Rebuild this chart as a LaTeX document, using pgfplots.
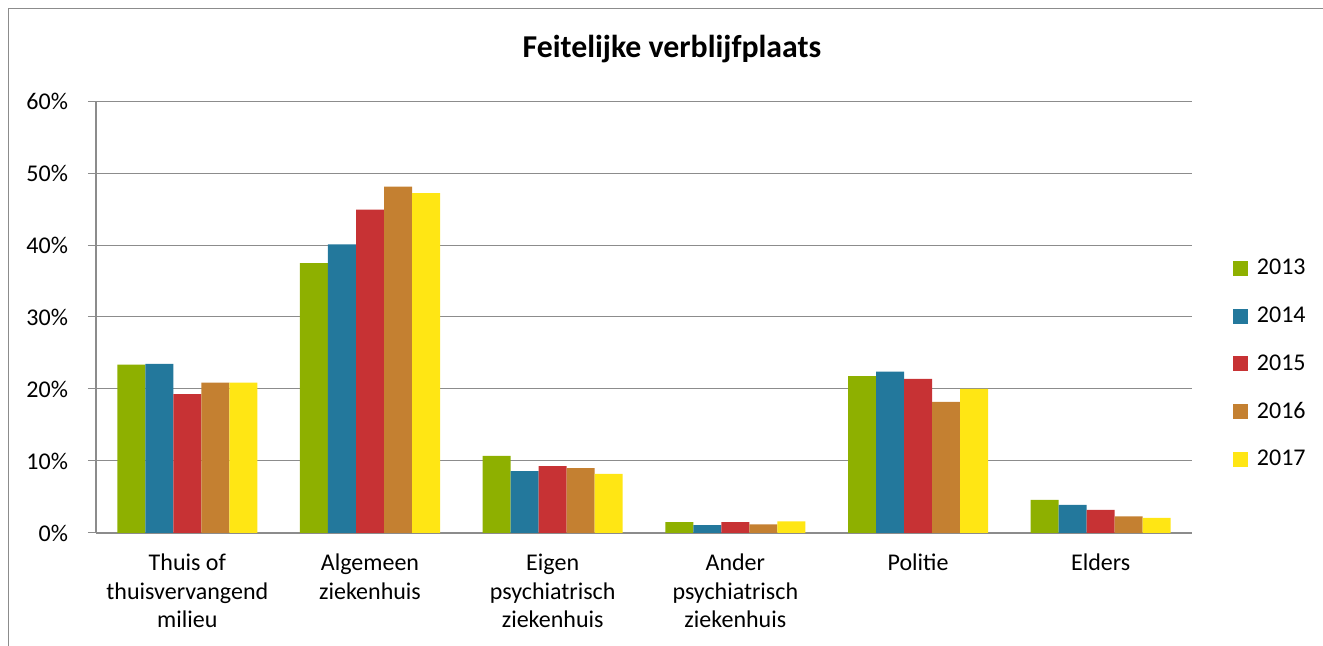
\documentclass[border=0pt]{standalone}
\usepackage{pgfplots}
\pgfplotsset{compat=1.18}
\usepackage{fontspec}
\setmainfont{Carlito}
\definecolor{c13}{HTML}{8EB000}
\definecolor{c14}{HTML}{23789C}
\definecolor{c15}{HTML}{C73234}
\definecolor{c16}{HTML}{C48031}
\definecolor{c17}{HTML}{FFE614}
\definecolor{gridgray}{HTML}{8C8C8C}
\begin{document}
\begin{tikzpicture}
\path[use as bounding box] (0,0) rectangle (661.5pt,323pt);
\draw[color=gridgray, line width=0.6pt] (4.15pt,0) -- (4.15pt,318.65pt) -- (661.5pt,318.65pt);
\node[font=\fontsize{15.9}{19}\selectfont\bfseries, anchor=base] at (336pt,294pt) {Feitelijke verblijfplaats};
\begin{axis}[
  at={(48pt,56.5pt)}, anchor=south west,
  scale only axis, width=548pt, height=216pt,
  ybar=0pt, bar width=14pt,
  xmin=-0.5, xmax=5.5, ymin=0, ymax=60,
  enlargelimits=false,
  xtick={0,...,5},
  xticklabels={Thuis of\\thuisvervangend\\milieu, Algemeen\\ziekenhuis, Eigen\\psychiatrisch\\ziekenhuis, Ander\\psychiatrisch\\ziekenhuis, Politie, Elders},
  xticklabel style={align=center, font=\fontsize{12}{14.25}\selectfont, yshift=-3pt},
  xtick style={draw=none},
  ytick={0,10,...,60},
  yticklabels={0\%,10\%,20\%,30\%,40\%,50\%,60\%},
  yticklabel style={font=\fontsize{12}{14.25}\selectfont, xshift=-6.5pt},
  ytick style={gridgray, line width=0.5pt},
  tick align=outside, major tick length=4pt,
  ymajorgrids, grid style={gridgray, line width=0.5pt},
  axis x line*=bottom, axis y line*=left,
  axis line style={gridgray, line width=0.6pt},
  legend style={at={(axis description cs:1.037,0.391)}, anchor=west, draw=none, fill=none,
    font=\fontsize{12}{14.25}\selectfont, row sep=10.5pt, inner sep=0pt,
    /tikz/every odd column/.append style={column sep=2.5pt}},
  legend cell align=left,
  legend image code/.code={\fill[#1] (0pt,-3.75pt) rectangle (7.5pt,3.75pt);},
]
\addplot[fill=c13, draw=none] coordinates {(0,23.4) (1,37.5) (2,10.7) (3,1.5) (4,21.8) (5,4.6)};
\addplot[fill=c14, draw=none] coordinates {(0,23.5) (1,40.1) (2,8.6) (3,1.1) (4,22.4) (5,3.9)};
\addplot[fill=c15, draw=none] coordinates {(0,19.3) (1,44.9) (2,9.3) (3,1.5) (4,21.4) (5,3.2)};
\addplot[fill=c16, draw=none] coordinates {(0,20.9) (1,48.1) (2,9.0) (3,1.2) (4,18.2) (5,2.3)};
\addplot[fill=c17, draw=none] coordinates {(0,20.9) (1,47.2) (2,8.2) (3,1.6) (4,20.0) (5,2.1)};
\legend{2013,2014,2015,2016,2017}
\end{axis}
\end{tikzpicture}
\end{document}
